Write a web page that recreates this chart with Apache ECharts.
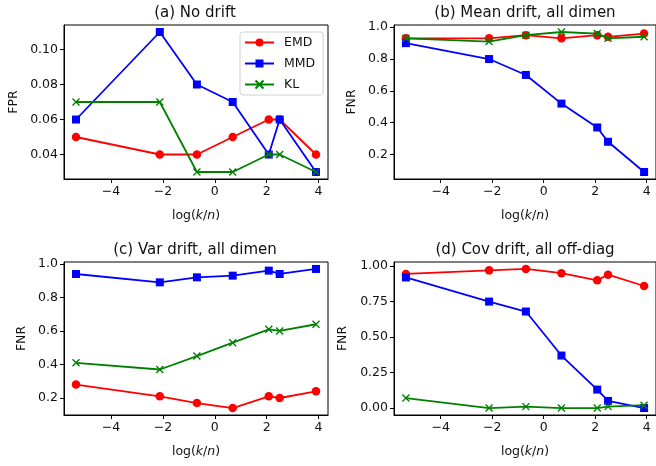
<!DOCTYPE html>
<html>
<head>
<meta charset="utf-8">
<script src="https://cdn.jsdelivr.net/npm/echarts@6/dist/echarts.min.js"></script>
<style>html,body{margin:0;padding:0;background:#fff}#c{width:656px;height:466px}</style>
</head>
<body>
<div id="c"></div>
<script>
// x positions: log(k/n)
const xs = [-5.35, -2.12, -0.69, 0.69, 2.08, 2.5, 3.9];
const xTicks = [-4, -2, 0, 2, 4];

// (a) No drift - FPR
const aEMD = [0.05, 0.04, 0.04, 0.05, 0.06, 0.06, 0.04];
const aMMD = [0.06, 0.11, 0.08, 0.07, 0.04, 0.06, 0.03];
const aKL  = [0.07, 0.07, 0.03, 0.03, 0.04, 0.04, 0.03];
const aTicks = [0.04, 0.06, 0.08, 0.10];

// (b) Mean drift - FNR
const bEMD = [0.93, 0.93, 0.95, 0.93, 0.95, 0.94, 0.96];
const bMMD = [0.90, 0.80, 0.70, 0.52, 0.37, 0.28, 0.09];
const bKL  = [0.93, 0.91, 0.95, 0.97, 0.96, 0.93, 0.94];
const bTicks = [0.2, 0.4, 0.6, 0.8, 1.0];

// (c) Var drift - FNR
const cEMD = [0.28, 0.21, 0.17, 0.14, 0.21, 0.20, 0.24];
const cMMD = [0.94, 0.89, 0.92, 0.93, 0.96, 0.94, 0.97];
const cKL  = [0.41, 0.37, 0.45, 0.53, 0.61, 0.60, 0.64];
const cTicks = [0.2, 0.4, 0.6, 0.8, 1.0];

// (d) Cov drift - FNR
const dEMD = [0.945, 0.97, 0.98, 0.95, 0.90, 0.94, 0.86];
const dMMD = [0.92, 0.75, 0.68, 0.37, 0.13, 0.05, 0.00];
const dKL  = [0.07, 0.00, 0.01, 0.00, 0.00, 0.01, 0.02];
const dTicks = [0.00, 0.25, 0.50, 0.75, 1.00];

const FONT = 'DejaVu Sans';
const TXT = '#111';

function padRange(arrs) {
  const all = [].concat(...arrs);
  const lo = Math.min(...all), hi = Math.max(...all), r = hi - lo;
  return [lo - 0.05 * r, hi + 0.05 * r];
}
const xr = padRange([xs]);

const panels = [
  {left: 64,  top: 25,  height: 154, title: '(a) No drift',            ylabel: 'FPR', ticks: aTicks, dec: 2, gap: 44, data: [aEMD, aMMD, aKL]},
  {left: 394, top: 25,  height: 154, title: '(b) Mean drift, all dimen', ylabel: 'FNR', ticks: bTicks, dec: 1, gap: 36, data: [bEMD, bMMD, bKL]},
  {left: 64,  top: 262, height: 153, title: '(c) Var drift, all dimen',  ylabel: 'FNR', ticks: cTicks, dec: 1, gap: 36, data: [cEMD, cMMD, cKL]},
  {left: 394, top: 262, height: 153, title: '(d) Cov drift, all off-diag', ylabel: 'FNR', ticks: dTicks, dec: 2, gap: 45, data: [dEMD, dMMD, dKL]}
];
const W = 264;

const names = ['EMD', 'MMD', 'KL'];
const colors = ['#ff0000', '#0000ff', '#008000'];
const symbols = ['circle', 'rect', 'path://M0,0L10,10M10,0L0,10'];
const symSizes = [8.5, 8, 7];

const grid = [], xAxis = [], yAxis = [], series = [], title = [];
panels.forEach((p, i) => {
  grid.push({left: p.left, top: p.top, width: W, height: p.height, show: true,
    borderColor: '#000', borderWidth: 1, backgroundColor: 'transparent', containLabel: false});
  title.push({text: p.title, left: p.left + W / 2 - 1, top: p.top - 19, textAlign: 'center', padding: 0,
    textStyle: {fontFamily: FONT, fontSize: 15, fontWeight: 'normal', color: TXT}});
  xAxis.push({type: 'value', gridIndex: i, min: xr[0], max: xr[1],
    axisLine: {show: true, onZero: false, lineStyle: {color: '#000', width: 1}},
    axisTick: {show: true, length: 4, customValues: xTicks, lineStyle: {color: '#000'}},
    axisLabel: {customValues: xTicks, margin: 6, fontFamily: FONT, fontSize: 12.5, color: TXT,
      formatter: v => (v < 0 ? '\u2212' + Math.abs(v) : String(v))},
    splitLine: {show: false},
    name: 'log({i|k}/{i|n})', nameLocation: 'middle', nameGap: 30,
    nameTextStyle: {fontFamily: FONT, fontSize: 12.5, color: TXT,
      rich: {i: {fontFamily: FONT, fontSize: 12.5, fontStyle: 'italic', color: TXT}}}
  });
  const yr = padRange(p.data);
  yAxis.push({type: 'value', gridIndex: i, min: yr[0], max: yr[1],
    axisLine: {show: true, onZero: false, lineStyle: {color: '#000', width: 1}},
    axisTick: {show: true, length: 4, customValues: p.ticks, lineStyle: {color: '#000'}},
    axisLabel: {customValues: p.ticks, margin: 6, fontFamily: FONT, fontSize: 12.5, color: TXT,
      formatter: v => v.toFixed(p.dec)},
    splitLine: {show: false},
    name: p.ylabel, nameLocation: 'middle', nameGap: p.gap, nameRotate: 90,
    nameTextStyle: {fontFamily: FONT, fontSize: 12.5, color: TXT}
  });
  p.data.forEach((vals, k) => {
    series.push({
      name: names[k], type: 'line', xAxisIndex: i, yAxisIndex: i,
      data: vals.map((v, j) => [xs[j], v]),
      symbol: symbols[k], symbolSize: symSizes[k], showSymbol: true,
      lineStyle: {color: colors[k], width: 1.8},
      itemStyle: k === 2 ? {color: colors[k], borderColor: colors[k], borderWidth: 1.4}
                         : {color: colors[k], borderWidth: 0},
      emphasis: {disabled: true}, animation: false, z: 2 + k
    });
  });
});

const chart = echarts.init(document.getElementById('c'), null, {renderer: 'canvas'});
chart.setOption({
  animation: false,
  title,
  grid, xAxis, yAxis, series,
  legend: {
    data: names, orient: 'vertical', left: 240, top: 32,
    padding: [4, 8, 4, 4], itemGap: 8, itemWidth: 29, itemHeight: 10,
    backgroundColor: '#fff', borderColor: '#d0d0d0', borderWidth: 1, borderRadius: 3,
    textStyle: {fontFamily: FONT, fontSize: 12.5, color: TXT, padding: [0, 0, 0, 5], lineHeight: 13},
    selectedMode: false
  }
});
</script>
</body>
</html>
